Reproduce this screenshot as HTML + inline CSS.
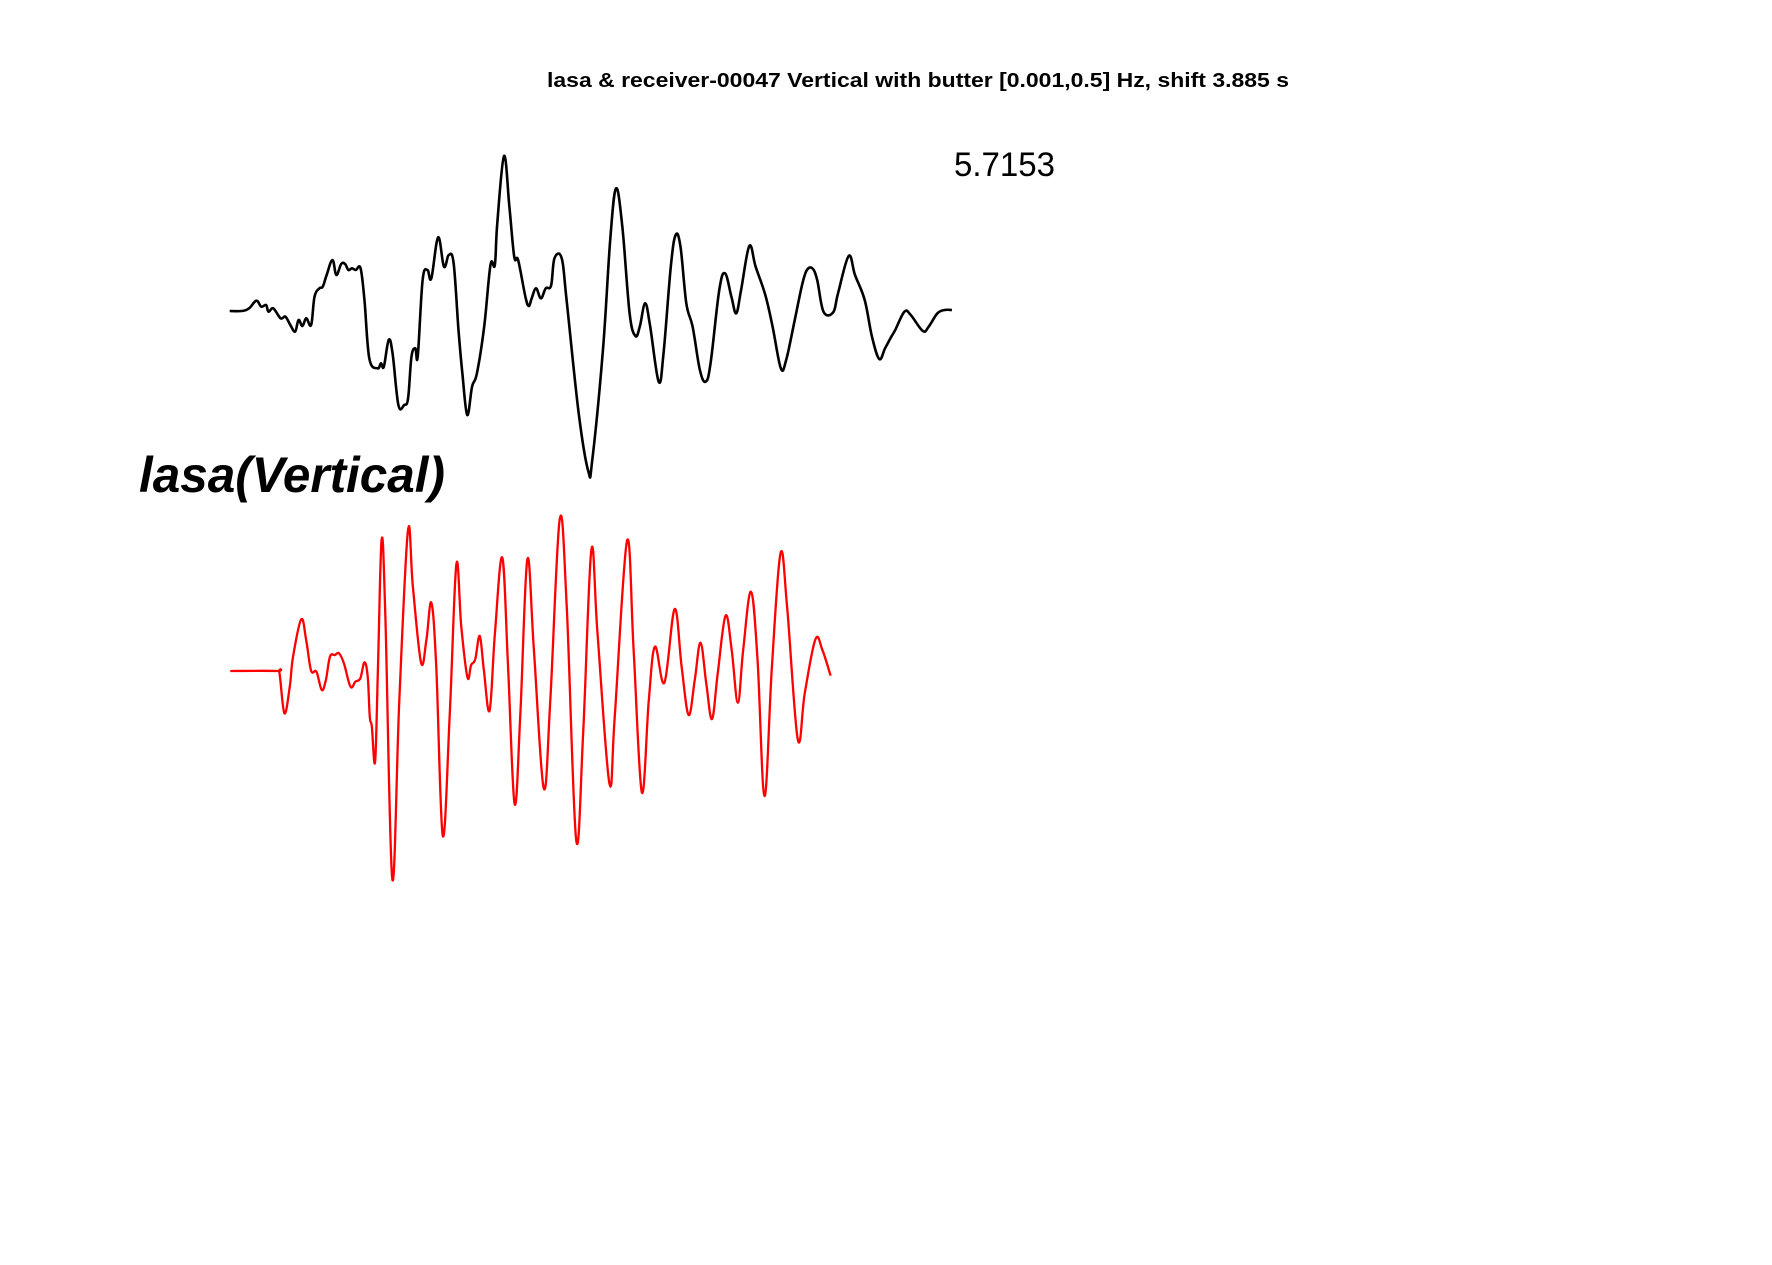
<!DOCTYPE html>
<html>
<head>
<meta charset="utf-8">
<style>
  html, body { margin: 0; padding: 0; background: #fff; }
  svg { display: block; }
</style>
</head>
<body>
<svg id="chart" width="1772" height="1265" viewBox="0 0 1772 1265" xmlns="http://www.w3.org/2000/svg">
  <rect x="0" y="0" width="1772" height="1265" fill="#fff"/>
  <text x="918" y="87" text-anchor="middle" font-family="Liberation Sans, Arial, sans-serif" font-weight="bold" font-size="20" textLength="742" lengthAdjust="spacingAndGlyphs">lasa &amp; receiver-00047 Vertical with butter [0.001,0.5] Hz, shift 3.885 s</text>
  <text x="954" y="176" font-family="Liberation Sans, Arial, sans-serif" font-size="34" textLength="101" lengthAdjust="spacingAndGlyphs">5.7153</text>
  <text x="139" y="492" font-family="Liberation Sans, Arial, sans-serif" font-weight="bold" font-style="italic" font-size="50" textLength="306" lengthAdjust="spacingAndGlyphs">lasa(Vertical)</text>
  <g id="black-g"></g>
  <g id="red-g"></g>
</svg>
<script>
// Observed (black) trace: time samples and amplitudes
const blackT = [20,45,60,75,85,95,100,110,125,135,145,155,162,170,178,188,195,205,212,220,232,240,250,258,265,272,280,290,298,308,325,332,338,348,356,368,380,388,395,403,408,418,428,436,450,462,472,482,492,500,510,520,530,545,558,567,572,586,597,607,615,630,637,643,652,662,672,683,690,705,715,740,760,768,790,805,817,830,845,857,866,877,887,905,915,930,940,950,962,975,990,1002,1012,1030,1042,1055,1065,1075,1092,1105,1125,1140,1157,1168,1185,1200,1210,1222,1232,1245,1265,1275,1297,1310,1330,1345,1360,1372,1385,1393,1412,1425,1450,1462,1480,1495,1510];
const blackY = [513,513,505,482,500,495,515,505,535,530,555,575,540,558,535,555,470,445,440,405,360,405,372,372,390,385,390,385,480,655,685,670,680,600,640,795,795,775,650,625,648,420,390,415,292,380,345,370,570,700,825,740,700,560,375,375,250,48,200,350,360,470,498,475,445,475,445,437,355,355,480,820,995,960,630,300,145,260,520,588,560,490,555,725,640,380,285,320,490,560,690,725,670,450,400,470,520,450,318,380,465,560,685,660,545,440,392,385,420,515,517,460,348,405,480,590,657,625,590,570,515,525,573,560,520,510,510];
const blackV = blackY.map(y => 513 - y);

// Synthetic (red) trace: time samples and amplitudes
const redT = [25,138,145,157,170,178,198,210,222,235,248,258,268,280,290,302,318,330,342,352,360,365,370,378,385,394,403,420,437,458,470,490,503,515,527,543,560,576,588,603,612,622,633,643,657,670,688,702,718,732,749,765,789,805,828,845,868,885,905,920,949,962,992,1008,1028,1045,1060,1083,1108,1125,1142,1157,1171,1185,1199,1213,1232,1247,1262,1275,1294,1310,1327,1345,1366,1382,1408,1425,1451,1468,1488];
const redY = [513,513,520,640,560,470,358,420,512,515,570,540,470,465,460,490,560,545,535,487,530,650,680,785,500,118,350,1138,600,92,260,488,420,308,500,1008,640,193,380,532,495,478,408,510,632,400,173,500,912,640,178,450,865,600,57,320,1020,700,150,400,850,650,122,450,877,600,440,548,327,500,645,540,428,550,657,520,347,450,608,450,275,480,888,500,160,320,718,580,418,450,527];
const redV = redY.map(y => 513 - y);

const xBlack = t => 220 + t / 2.063;
const yBlack = v => 140 + (513 - v) / 3;
const xRed = t => 220 + t / 2.437;
const yRed = v => 500 + (513 - v) / 3;

function smoothPath(xs, ys) {
  let d = 'M' + xs[0].toFixed(2) + ',' + ys[0].toFixed(2);
  for (let i = 0; i < xs.length - 1; i++) {
    const x0 = xs[Math.max(i - 1, 0)], y0 = ys[Math.max(i - 1, 0)];
    const x1 = xs[i], y1 = ys[i], x2 = xs[i + 1], y2 = ys[i + 1];
    const x3 = xs[Math.min(i + 2, xs.length - 1)], y3 = ys[Math.min(i + 2, xs.length - 1)];
    const t = 0.18;
    const c1x = x1 + (x2 - x0) * t, c1y = y1 + (y2 - y0) * t;
    const c2x = x2 - (x3 - x1) * t, c2y = y2 - (y3 - y1) * t;
    d += ' C' + c1x.toFixed(2) + ',' + c1y.toFixed(2) + ' ' + c2x.toFixed(2) + ',' + c2y.toFixed(2) + ' ' + x2.toFixed(2) + ',' + y2.toFixed(2);
  }
  return d;
}

const NS = 'http://www.w3.org/2000/svg';
const bp = document.createElementNS(NS, 'path');
bp.setAttribute('d', smoothPath(blackT.map(xBlack), blackV.map(yBlack)));
bp.setAttribute('fill', 'none');
bp.setAttribute('stroke', '#000');
bp.setAttribute('stroke-width', '2.6');
bp.setAttribute('stroke-linejoin', 'round');


document.getElementById('black-g').appendChild(bp);

const rp = document.createElementNS(NS, 'path');
rp.setAttribute('d', smoothPath(redT.map(xRed), redV.map(yRed)));
rp.setAttribute('fill', 'none');
rp.setAttribute('stroke', '#ff0000');
rp.setAttribute('stroke-width', '2.3');
rp.setAttribute('stroke-linejoin', 'round');


document.getElementById('red-g').appendChild(rp);
</script>
</body>
</html>
